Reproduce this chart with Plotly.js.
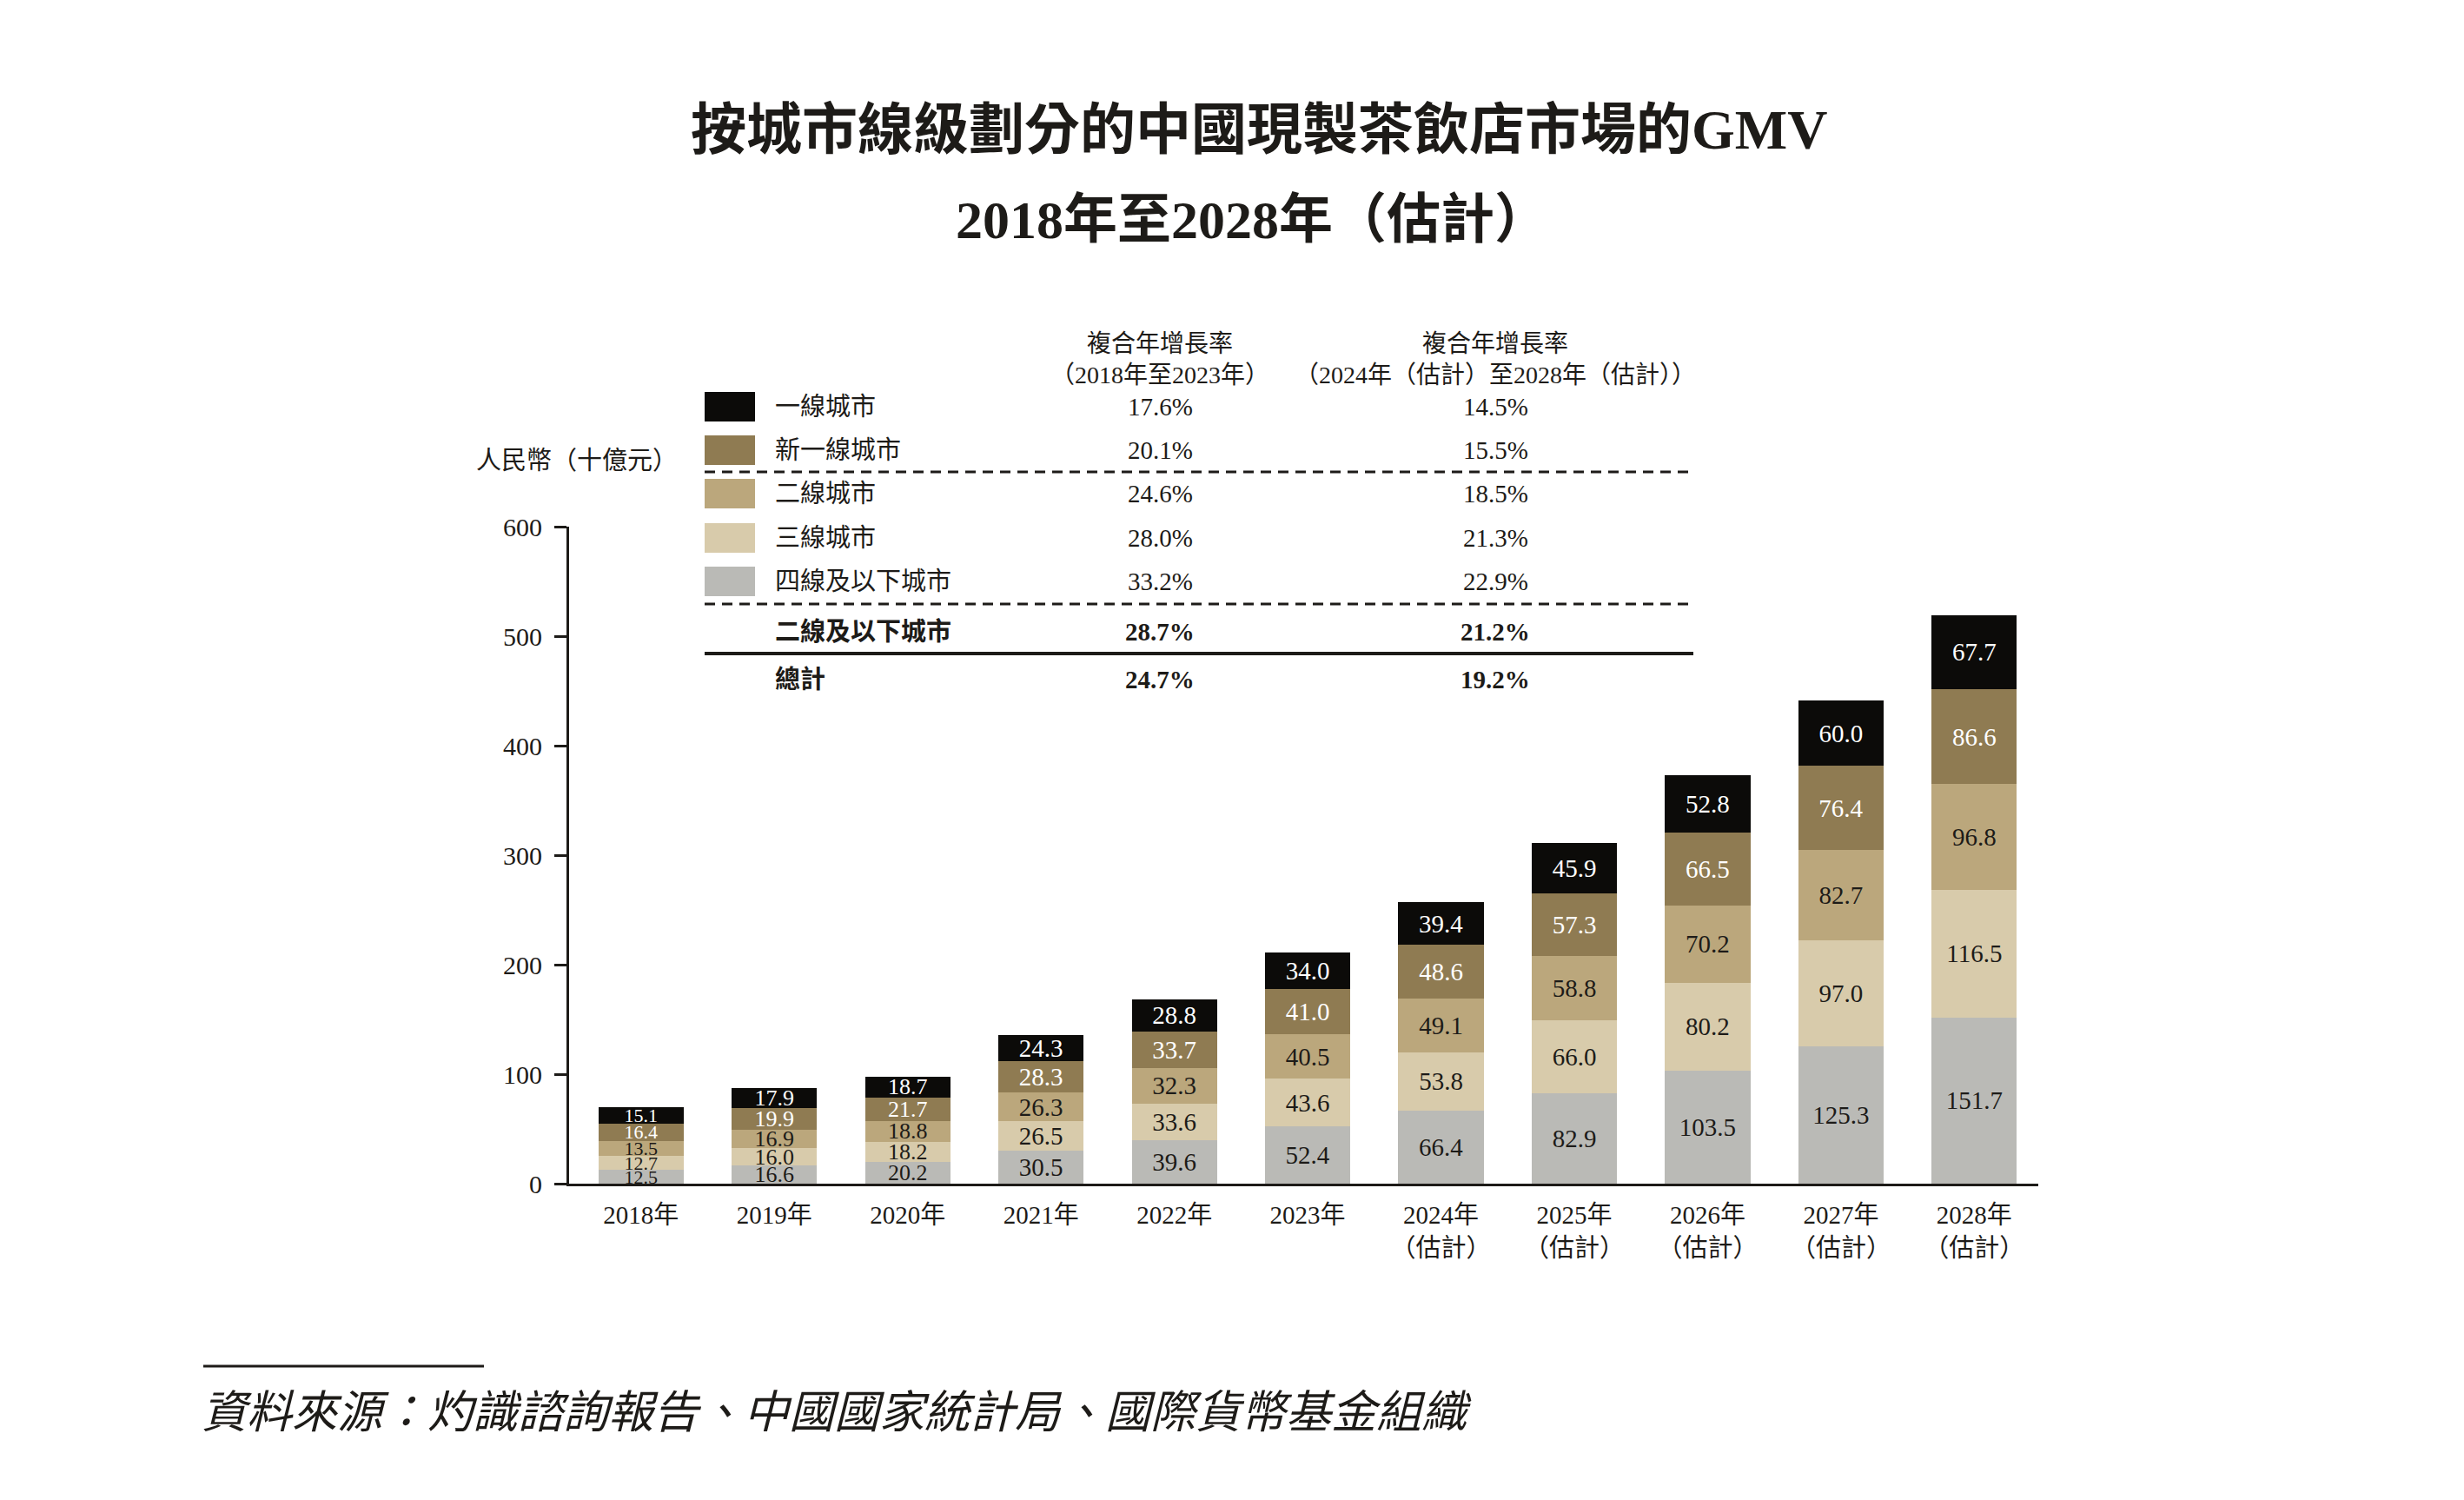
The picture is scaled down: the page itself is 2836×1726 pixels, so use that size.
<!DOCTYPE html>
<html>
<head>
<meta charset="utf-8">
<script src="https://cdn.plot.ly/plotly-3.0.1.min.js"></script>
<style>html,body{margin:0;padding:0;background:#fff;}#chart{width:2836px;height:1726px;}</style>
</head>
<body>
<div id="chart"></div>
<script>
// ---------- DATA ----------
const years = ['2018','2019','2020','2021','2022','2023','2024','2025','2026','2027','2028'];
const yearLabels = ['2018年','2019年','2020年','2021年','2022年','2023年',
  '2024年<br>（估計）','2025年<br>（估計）','2026年<br>（估計）','2027年<br>（估計）','2028年<br>（估計）'];
const tier1     = [15.1,17.9,18.7,24.3,28.8,34.0,39.4,45.9,52.8,60.0,67.7];
const newTier1  = [16.4,19.9,21.7,28.3,33.7,41.0,48.6,57.3,66.5,76.4,86.6];
const tier2     = [13.5,16.9,18.8,26.3,32.3,40.5,49.1,58.8,70.2,82.7,96.8];
const tier3     = [12.7,16.0,18.2,26.5,33.6,43.6,53.8,66.0,80.2,97.0,116.5];
const tier4plus = [12.5,16.6,20.2,30.5,39.6,52.4,66.4,82.9,103.5,125.3,151.7];
const totals    = [70.2,87.3,97.6,135.9,168.0,211.5,257.3,310.9,373.2,441.4,519.3];
const seriesNames = ['一線城市','新一線城市','二線城市','三線城市','四線及以下城市'];
const cagrHist = ['17.6%','20.1%','24.6%','28.0%','33.2%'];
const cagrFcst = ['14.5%','15.5%','18.5%','21.3%','22.9%'];
const summaryNames = ['二線及以下城市','總計'];
const summaryHist = ['28.7%','24.7%'];
const summaryFcst = ['21.2%','19.2%'];
const yTicks = [0,100,200,300,400,500,600];

// ---------- STYLE ----------
const colors = ['#0c0b09','#8f7b52','#bba77c','#d8cbab','#babab6'];
const textColors = ['#ffffff','#ffffff','#1d1b18','#1d1b18','#1d1b18'];
const FONT = 'Liberation Serif, "Noto Sans CJK TC", serif';
const INK = '#1d1b18';
const labelSizes = years.map((_, i) => i === 0 ? 22 : (i < 3 ? 26 : 29));

const L = 655, R = 2346, T = 606, B = 1362;
const px = x => (x - L) / (R - L);
const py = y => (B - y) / (B - T);

const seriesData = [tier1, newTier1, tier2, tier3, tier4plus];
const traces = [];
for (let i = 4; i >= 0; i--) {
  traces.push({
    type: 'bar',
    name: seriesNames[i],
    x: years,
    y: seriesData[i],
    marker: {color: colors[i], line: {width: 0}},
    text: seriesData[i].map(v => v.toFixed(1)),
    textposition: 'inside',
    insidetextanchor: 'middle',
    constraintext: 'none',
    textangle: 0,
    textfont: {family: FONT, size: labelSizes, color: textColors[i]},
    hoverinfo: 'skip',
    cliponaxis: false
  });
}

const annotations = [];
const shapes = [];

// totals above bars
years.forEach((yr, i) => {
  annotations.push({
    x: yr, y: totals[i], xref: 'x', yref: 'y',
    text: '<b>' + totals[i].toFixed(1) + '</b>',
    showarrow: false, yanchor: 'bottom', yshift: 14,
    font: {family: FONT, size: 30, color: INK}
  });
});

// titles
annotations.push({xref:'paper', yref:'paper', x: px(1449), y: py(150), xanchor:'center', yanchor:'middle',
  text:'<b>按城市線級劃分的中國現製茶飲店市場的GMV</b>', showarrow:false,
  font:{family: FONT, size: 64, color: INK}});
annotations.push({xref:'paper', yref:'paper', x: px(1441), y: py(253), xanchor:'center', yanchor:'middle',
  text:'<b>2018年至2028年（估計）</b>', showarrow:false,
  font:{family: FONT, size: 62, color: INK}});

// y axis unit
annotations.push({xref:'paper', yref:'paper', x: px(546), y: py(530), xanchor:'left', yanchor:'middle',
  text:'人民幣（十億元）', showarrow:false, font:{family: FONT, size: 29, color: INK}});

// table header
const colX = [1335, 1721];
annotations.push({xref:'paper', yref:'paper', x: px(colX[0]), y: py(395), xanchor:'center', yanchor:'middle',
  text:'複合年增長率', showarrow:false, font:{family: FONT, size: 28, color: INK}});
annotations.push({xref:'paper', yref:'paper', x: px(colX[0]), y: py(432), xanchor:'center', yanchor:'middle',
  text:'（2018年至2023年）', showarrow:false, font:{family: FONT, size: 28, color: INK}});
annotations.push({xref:'paper', yref:'paper', x: px(colX[1]), y: py(395), xanchor:'center', yanchor:'middle',
  text:'複合年增長率', showarrow:false, font:{family: FONT, size: 28, color: INK}});
annotations.push({xref:'paper', yref:'paper', x: px(colX[1]), y: py(432), xanchor:'center', yanchor:'middle',
  text:'（2024年（估計）至2028年（估計））', showarrow:false, font:{family: FONT, size: 28, color: INK}});

// legend rows
const rowY = [468, 518, 568, 619, 669];
seriesNames.forEach((nm, i) => {
  shapes.push({type:'rect', xref:'paper', yref:'paper', x0: px(811), x1: px(869),
    y0: py(rowY[i] + 17), y1: py(rowY[i] - 17), fillcolor: colors[i], line:{width:0}});
  annotations.push({xref:'paper', yref:'paper', x: px(890), y: py(rowY[i]), xanchor:'left', yanchor:'middle',
    text: nm, showarrow:false, font:{family: FONT, size: 29, color: INK}});
  annotations.push({xref:'paper', yref:'paper', x: px(colX[0]), y: py(rowY[i]), xanchor:'center', yanchor:'middle',
    text: cagrHist[i], showarrow:false, font:{family: FONT, size: 29, color: INK}});
  annotations.push({xref:'paper', yref:'paper', x: px(colX[1]), y: py(rowY[i]), xanchor:'center', yanchor:'middle',
    text: cagrFcst[i], showarrow:false, font:{family: FONT, size: 29, color: INK}});
});
const sumY = [727, 782];
summaryNames.forEach((nm, i) => {
  annotations.push({xref:'paper', yref:'paper', x: px(890), y: py(sumY[i]), xanchor:'left', yanchor:'middle',
    text: '<b>' + nm + '</b>', showarrow:false, font:{family: FONT, size: 29, color: INK}});
  annotations.push({xref:'paper', yref:'paper', x: px(colX[0]), y: py(sumY[i]), xanchor:'center', yanchor:'middle',
    text: '<b>' + summaryHist[i] + '</b>', showarrow:false, font:{family: FONT, size: 29, color: INK}});
  annotations.push({xref:'paper', yref:'paper', x: px(colX[1]), y: py(sumY[i]), xanchor:'center', yanchor:'middle',
    text: '<b>' + summaryFcst[i] + '</b>', showarrow:false, font:{family: FONT, size: 29, color: INK}});
});
// separators
[543, 695].forEach(yy => shapes.push({type:'line', xref:'paper', yref:'paper', x0: px(811), x1: px(1949),
  y0: py(yy), y1: py(yy), line:{color: INK, width: 3, dash: '12px,8px'}}));
shapes.push({type:'line', xref:'paper', yref:'paper', x0: px(811), x1: px(1949),
  y0: py(752), y1: py(752), line:{color: INK, width: 4}});

// source
shapes.push({type:'line', xref:'paper', yref:'paper', x0: px(234), x1: px(557),
  y0: py(1572), y1: py(1572), line:{color: INK, width: 3}});
annotations.push({xref:'paper', yref:'paper', x: px(230), y: py(1620), xanchor:'left', yanchor:'middle',
  text:'資料來源：灼識諮詢報告、中國國家統計局、國際貨幣基金組織', showarrow:false,
  font:{family: '"Noto Sans CJK TC", sans-serif', size: 52, color: INK, style: 'italic'}});

const layout = {
  width: 2836, height: 1726,
  margin: {l: L, r: 2836 - R, t: T, b: 1726 - B, pad: 0},
  paper_bgcolor: '#ffffff', plot_bgcolor: '#ffffff',
  barmode: 'stack', bargap: 0.36,
  showlegend: false,
  font: {family: FONT, color: INK},
  xaxis: {
    type: 'category', range: [-0.54, 10.48],
    tickvals: years, ticktext: yearLabels,
    showline: true, linecolor: INK, linewidth: 3,
    ticks: '', showgrid: false, zeroline: false,
    tickfont: {family: FONT, size: 29, color: INK},
    ticklabelstandoff: 8, fixedrange: true
  },
  yaxis: {
    range: [0, 600], tickvals: yTicks,
    showline: true, linecolor: INK, linewidth: 3,
    ticks: 'outside', ticklen: 14, tickwidth: 3, tickcolor: INK,
    showgrid: false, zeroline: false,
    tickfont: {family: FONT, size: 30, color: INK},
    ticklabelstandoff: 8, fixedrange: true
  },
  annotations: annotations,
  shapes: shapes
};

Plotly.newPlot('chart', traces, layout, {staticPlot: true, displayModeBar: false});
</script>
</body>
</html>
